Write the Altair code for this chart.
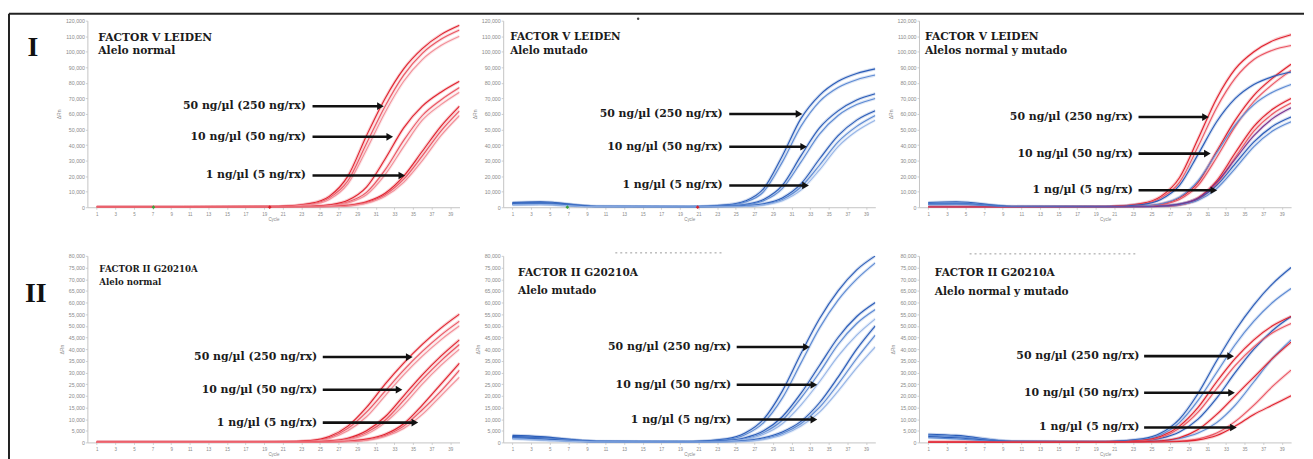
import altair as alt
import pandas as pd

# ---------------- data ----------------
CYCLES = [1, 4, 10, 20, 24, 26, 28, 30, 32, 34, 36, 38, 40]

# I - Factor V Leiden, normal allele (red)
FVL_N_50 = [[0, 0, 0, 300, 2500, 7000, 20000, 46000, 70000, 89000, 102000, 111000, 117000],
            [0, 0, 0, 250, 2000, 6000, 17000, 41000, 65000, 85000, 99000, 108000, 114000],
            [0, 0, 0, 200, 1700, 5000, 15000, 37000, 61000, 81000, 95000, 104000, 110000]]
FVL_N_10 = [[0, 0, 0, 80, 500, 1500, 4500, 13000, 31000, 51000, 65000, 74000, 81000],
            [0, 0, 0, 60, 400, 1100, 3300, 9500, 24000, 43000, 59000, 69000, 77000],
            [0, 0, 0, 50, 300, 900, 2800, 8000, 21000, 39000, 56000, 66000, 74000]]
FVL_N_1 = [[0, 0, 0, 20, 150, 400, 1200, 3500, 9000, 20000, 36000, 52000, 65000],
           [0, 0, 0, 15, 120, 320, 1000, 3000, 8000, 18000, 33000, 49000, 62000],
           [0, 0, 0, 10, 100, 250, 800, 2500, 7000, 16000, 30000, 46000, 59000]]

# I - Factor V Leiden, mutated allele (blue)
FVL_M_50 = [[3000, 3500, 500, 300, 1500, 4000, 12000, 33000, 57000, 72000, 81000, 86000, 89000],
            [2500, 3000, 400, 250, 1200, 3300, 10000, 29000, 52000, 68000, 77000, 82000, 85000]]
FVL_M_10 = [[2500, 2800, 400, 150, 700, 1800, 5000, 14000, 33000, 51000, 62000, 69000, 73000],
            [2000, 2500, 300, 120, 550, 1500, 4200, 12000, 29000, 47000, 59000, 66000, 70000]]
FVL_M_1 = [[2000, 2200, 300, 80, 300, 800, 2200, 6000, 15000, 31000, 46000, 56000, 62000],
           [1800, 2000, 250, 60, 250, 650, 1800, 5000, 13000, 27000, 42000, 52000, 59000],
           [1500, 1800, 200, 50, 200, 500, 1500, 4200, 11000, 24000, 39000, 49000, 56000]]

# I - Factor V Leiden, both alleles
FVL_B_RED = [[0, 0, 0, 300, 2500, 7000, 19000, 44000, 70000, 89000, 100000, 107000, 111000],
             [0, 0, 0, 250, 2000, 6000, 16000, 39000, 64000, 83000, 95000, 101000, 104000],
             [0, 0, 0, 100, 700, 2000, 6000, 16000, 36000, 56000, 72000, 83000, 92000],
             [0, 0, 0, 80, 600, 1700, 5000, 14000, 32000, 52000, 68000, 79000, 88000],
             [0, 0, 0, 30, 200, 600, 1800, 6000, 17000, 35000, 52000, 63000, 70000],
             [0, 0, 0, 20, 150, 450, 1400, 5000, 15000, 32000, 49000, 60000, 67000]]
FVL_B_BLUE = [[3000, 3500, 500, 300, 1800, 5000, 14000, 34000, 55000, 70000, 79000, 84000, 87000],
              [2500, 2800, 400, 150, 800, 2200, 6500, 17000, 35000, 53000, 66000, 74000, 79000],
              [2000, 2200, 300, 60, 250, 700, 2000, 5500, 14000, 28000, 42000, 52000, 58000],
              [1800, 2000, 250, 50, 200, 550, 1600, 4500, 12000, 25000, 39000, 49000, 55000]]
FVL_B_PURPLE = [[0, 0, 0, 40, 220, 650, 1900, 5800, 16000, 31000, 46000, 57000, 64000]]

# II - Factor II G20210A, normal allele (red)
FII_N_50 = [[0, 0, 0, 100, 800, 2500, 7000, 15000, 25000, 34000, 42000, 49000, 55000],
            [0, 0, 0, 80, 600, 2000, 6000, 13000, 22000, 31000, 39000, 46000, 52000],
            [0, 0, 0, 60, 500, 1700, 5000, 11000, 20000, 29000, 37000, 44000, 50000]]
FII_N_10 = [[0, 0, 0, 30, 200, 600, 1800, 5000, 11000, 20000, 29000, 37000, 44000],
            [0, 0, 0, 20, 150, 500, 1500, 4200, 9500, 18000, 27000, 35000, 42000],
            [0, 0, 0, 15, 100, 400, 1200, 3500, 8500, 16000, 25000, 33000, 40000]]
FII_N_1 = [[0, 0, 0, 10, 50, 150, 500, 1400, 3500, 8000, 16000, 25000, 34000],
           [0, 0, 0, 8, 40, 120, 400, 1100, 3000, 7000, 14000, 22000, 31000],
           [0, 0, 0, 5, 30, 100, 300, 900, 2500, 6000, 12000, 20000, 28000]]

# II - Factor II G20210A, mutated allele (blue)
FII_M_50 = [[3000, 2500, 500, 300, 1500, 4000, 10000, 22000, 38000, 53000, 65000, 74000, 80000],
            [2500, 2000, 400, 250, 1200, 3300, 8500, 19000, 34000, 49000, 61000, 70000, 77000]]
FII_M_10 = [[2500, 2000, 400, 200, 800, 2000, 5000, 11000, 21000, 33000, 45000, 54000, 60000],
            [2000, 1800, 300, 150, 600, 1600, 4200, 9500, 19000, 30000, 42000, 51000, 57000],
            [1800, 1500, 300, 120, 500, 1300, 3500, 8000, 16000, 26000, 37000, 46000, 53000]]
FII_M_1 = [[2000, 1500, 300, 100, 300, 800, 2000, 4500, 9000, 17000, 28000, 40000, 50000],
           [1800, 1200, 250, 80, 250, 600, 1600, 3800, 8000, 15000, 25000, 36000, 46000],
           [1500, 1000, 200, 60, 200, 500, 1300, 3200, 7000, 13000, 22000, 32000, 41000]]

# II - Factor II G20210A, both alleles
FII_B_BLUE = [[3500, 3000, 500, 300, 1500, 4000, 10000, 21000, 35000, 48000, 59000, 68000, 75000],
              [3000, 2500, 400, 250, 1200, 3300, 8500, 18000, 30000, 42000, 52000, 60000, 66000],
              [2500, 2000, 300, 150, 700, 1800, 4500, 10000, 19000, 30000, 40000, 48000, 54000],
              [2000, 1500, 250, 80, 300, 700, 1700, 4000, 8500, 16000, 26000, 36000, 44000]]
FII_B_RED = [[0, 0, 0, 100, 900, 2600, 7000, 15000, 26000, 36000, 44000, 50000, 54000],
             [0, 0, 0, 80, 700, 2100, 6000, 13000, 23000, 33000, 41000, 47000, 51000],
             [0, 0, 0, 30, 250, 700, 2000, 5500, 12000, 20000, 28000, 36000, 43000],
             [0, 0, 0, 10, 60, 180, 550, 1500, 4000, 9000, 16000, 24000, 31000],
             [0, 0, 0, 8, 40, 120, 400, 1100, 3000, 7000, 12000, 16000, 20000]]

ARROW_LABELS = ["50 ng/µl (250 ng/rx)", "10 ng/µl (50 ng/rx)", "1 ng/µl (5 ng/rx)"]
# per panel: label right end (cycle), arrow start (cycle), arrow tips (cycle), label heights (Rn)
P1_ARROWS = dict(lx=23.5, ax=24.2, tips=[31.5, 32.5, 33.8], ys=[65000, 45300, 20400])
P2_ARROWS = dict(lx=23.6, ax=24.3, tips=[31.8, 32.3, 32.5], ys=[60000, 38900, 14000])
P3_ARROWS = dict(lx=23.0, ax=23.6, tips=[30.8, 31.0, 31.7], ys=[58000, 34500, 10900])
P4_ARROWS = dict(lx=24.7, ax=25.3, tips=[34.6, 33.5, 35.2], ys=[36600, 22600, 8500])
P5_ARROWS = dict(lx=24.5, ax=25.1, tips=[32.6, 33.4, 33.4], ys=[40900, 24700, 9800])
P6_ARROWS = dict(lx=23.7, ax=24.2, tips=[33.5, 33.6, 33.8], ys=[37000, 21300, 6400])

# baseline start / end markers (cycle)
P1_MARKS = [7.1, 19.6]
P2_MARKS = [6.9, 20.9]

# ---------------- styles ----------------
RED = ["#e0222e", "#ea5562", "#f28f98"]
BLUE = ["#2a5cb8", "#5d8ad3", "#97b5e6"]
PURPLE = ["#7a3590"]
W, H = 375, 188
XS = alt.Scale(domain=[0, 40], nice=False, zero=False)
SERIF = "DejaVu Serif"


def series(name, groups):
    rows = []
    for gname, reps, palette in groups:
        for i, vals in enumerate(reps):
            sid = f"{name}-{gname}-{i}"
            col = palette[i % len(palette)]
            for c, v in zip(CYCLES, vals):
                rows.append({"cycle": c, "rn": v, "sid": sid, "col": col})
    return pd.DataFrame(rows)


def panel(name, groups, ymax, ystep, arrows, t1, t2, tpos, tsize, marks=None, extra=None):
    df = series(name, groups)
    ys = alt.Scale(domain=[0, ymax], nice=False)
    xax = alt.Axis(values=list(range(1, 40, 2)), title="Cycle", labelFontSize=4.5,
                   labelColor="#8a8a8a", titleFontSize=4.5, titleColor="#8a8a8a",
                   titleFontWeight="normal", titlePadding=1, labelPadding=2, tickSize=2,
                   tickColor="#cfcfcf", domainColor="#c4c4c4", grid=False)
    yax = alt.Axis(values=list(range(0, ymax + 1, ystep)), format=",d", title="ΔRn",
                   labelFontSize=5.3, labelColor="#8a8a8a", titleFontSize=5,
                   titleColor="#8a8a8a", titleFontWeight="normal", titlePadding=4,
                   labelPadding=1, tickSize=2, tickColor="#cfcfcf", domainColor="#c4c4c4",
                   grid=False)
    enc = dict(x=alt.X("cycle:Q", scale=XS, axis=xax),
               y=alt.Y("rn:Q", scale=ys, axis=yax),
               color=alt.Color("col:N", scale=None),
               detail="sid:N")
    halo = alt.Chart(df).mark_line(interpolate="monotone", strokeWidth=3.2, opacity=0.22,
                                   clip=True).encode(**enc)
    lines = alt.Chart(df).mark_line(interpolate="monotone", strokeWidth=1.1, clip=True).encode(**enc)
    adf = pd.DataFrame({"label": ARROW_LABELS, "lx": [arrows["lx"]] * 3,
                        "ax": [arrows["ax"]] * 3, "tip": arrows["tips"], "ly": arrows["ys"]})
    ab = alt.Chart(adf)
    texts = ab.mark_text(align="right", baseline="middle", font=SERIF, fontWeight="bold",
                         fontSize=11, color="#1b1b1b").encode(
        x=alt.X("lx:Q", scale=XS, axis=xax), y=alt.Y("ly:Q", scale=ys, axis=yax), text="label:N")
    shafts = ab.mark_rule(strokeWidth=2.6, color="#111111").encode(
        x=alt.X("ax:Q", scale=XS, axis=xax), x2="tip:Q", y=alt.Y("ly:Q", scale=ys, axis=yax))
    heads = ab.mark_point(shape="triangle-right", filled=True, size=60, color="#111111",
                          opacity=1).encode(
        x=alt.X("tip:Q", scale=XS, axis=xax), y=alt.Y("ly:Q", scale=ys, axis=yax))
    one = pd.DataFrame({"k": [0]})
    tA = alt.Chart(one).mark_text(align="left", baseline="middle", font=SERIF,
                                  fontWeight="bold", fontSize=tsize, color="#1b1b1b").encode(
        x=alt.value(tpos[0]), y=alt.value(tpos[1]), text=alt.value(t1))
    tB = alt.Chart(one).mark_text(align="left", baseline="middle", font=SERIF,
                                  fontWeight="bold", fontSize=tsize, color="#1b1b1b").encode(
        x=alt.value(tpos[0]), y=alt.value(tpos[2]), text=alt.value(t2))
    layers = [halo, lines, shafts, heads, texts, tA, tB]
    if marks:
        mdf = pd.DataFrame({"cycle": marks, "rn": [0, 0], "col": ["#3aa23a", "#d8202a"]})
        layers.append(alt.Chart(mdf).mark_point(shape="diamond", filled=True, size=14,
                                                opacity=1).encode(
            x=alt.X("cycle:Q", scale=XS, axis=xax), y=alt.Y("rn:Q", scale=ys, axis=yax),
            color=alt.Color("col:N", scale=None)))
    if extra:
        layers += extra
    return alt.layer(*layers).properties(width=W, height=H)


one = pd.DataFrame({"k": [0]})
frame_v = alt.Chart(one).mark_rule(color="#222222", strokeWidth=2).encode(
    x=alt.value(-79), y=alt.value(-7), y2=alt.value(445))
frame_h = alt.Chart(one).mark_rule(color="#222222", strokeWidth=2).encode(
    x=alt.value(-79), x2=alt.value(1226), y=alt.value(-7))
row_I = alt.Chart(one).mark_text(font="Liberation Serif", fontWeight="bold", fontSize=28,
                                 align="center", baseline="middle", color="#111").encode(
    x=alt.value(-55), y=alt.value(28), text=alt.value("I"))
row_II = alt.Chart(one).mark_text(font="Liberation Serif", fontWeight="bold", fontSize=28,
                                  align="center", baseline="middle", color="#111").encode(
    x=alt.value(-52), y=alt.value(39), text=alt.value("II"))
# faint scanner artefacts along the top of some panels
dot_p2 = alt.Chart(one).mark_point(filled=True, size=6, color="#444", opacity=1).encode(
    x=alt.value(136), y=alt.value(-2))
dash_p5 = alt.Chart(one).mark_rule(color="#9a9a9a", strokeWidth=1, strokeDash=[2, 3]).encode(
    x=alt.value(113), x2=alt.value(223), y=alt.value(-3))
dash_p6 = alt.Chart(one).mark_rule(color="#9a9a9a", strokeWidth=1, strokeDash=[2, 3]).encode(
    x=alt.value(51), x2=alt.value(221), y=alt.value(-2))

p1 = panel("p1", [("50", FVL_N_50, RED), ("10", FVL_N_10, RED), ("1", FVL_N_1, RED)],
           120000, 10000, P1_ARROWS, "FACTOR V LEIDEN", "Alelo normal", (11, 17, 31), 10.8,
           marks=P1_MARKS, extra=[frame_v, frame_h, row_I])
p2 = panel("p2", [("50", FVL_M_50, BLUE), ("10", FVL_M_10, BLUE), ("1", FVL_M_1, BLUE)],
           120000, 10000, P2_ARROWS, "FACTOR V LEIDEN", "Alelo mutado", (7, 16, 31), 10.5,
           marks=P2_MARKS, extra=[dot_p2])
p3 = panel("p3", [("r", FVL_B_RED, RED[:2]), ("b", FVL_B_BLUE, BLUE[:2]),
                  ("p", FVL_B_PURPLE, PURPLE)],
           120000, 10000, P3_ARROWS, "FACTOR V LEIDEN", "Alelos normal y mutado", (6, 16, 31), 10.8)
p4 = panel("p4", [("50", FII_N_50, RED), ("10", FII_N_10, RED), ("1", FII_N_1, RED)],
           80000, 5000, P4_ARROWS, "FACTOR II G20210A", "Alelo normal", (12, 13, 26), 8.7,
           extra=[row_II])
p5 = panel("p5", [("50", FII_M_50, BLUE), ("10", FII_M_10, BLUE), ("1", FII_M_1, BLUE)],
           80000, 5000, P5_ARROWS, "FACTOR II G20210A", "Alelo mutado", (15, 17, 35), 10.6,
           extra=[dash_p5])
p6 = panel("p6", [("b", FII_B_BLUE, BLUE[:2]), ("r", FII_B_RED, RED[:2])],
           80000, 5000, P6_ARROWS, "FACTOR II G20210A", "Alelo normal y mutado", (16, 17, 36), 10.6,
           extra=[dash_p6])

chart = alt.concat(p1, p2, p3, p4, p5, p6, columns=3,
                   spacing=alt.RowColnumber(row=49, column=44), bounds="flush").resolve_scale(
    x="independent", y="independent"
).properties(
    padding={"left": 0, "top": 3, "right": 0, "bottom": 0}
).configure_view(strokeWidth=0)

chart.save("out.html", embed_options={"renderer": "svg", "actions": False})
